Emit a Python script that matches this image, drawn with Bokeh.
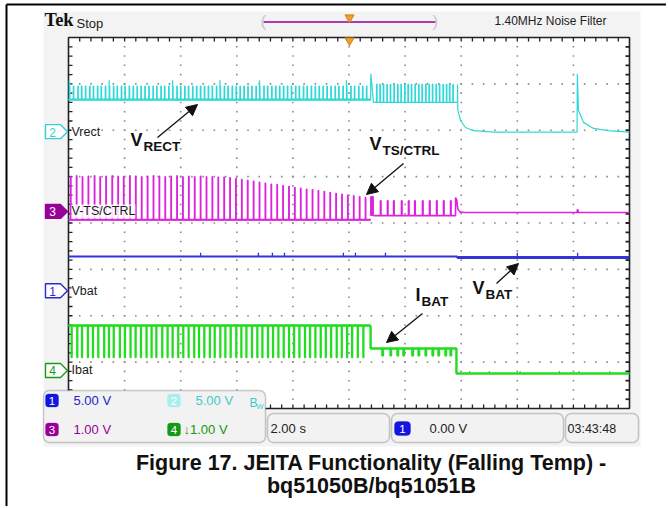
import numpy as np
from bokeh.plotting import figure
from bokeh.models import Range1d, Label, BoxAnnotation, Arrow, NormalHead
from bokeh.embed import file_html
from bokeh.resources import INLINE

# ================= values =================
# horizontal: seconds (2.00 s/div, 10 div) ; vertical: screen divisions (centre 0, +-4)
SEC_PER_DIV = 2.0
X_DIVS, Y_DIVS = 10, 8

ch_labels = ["Vrect", "V-TS/CTRL", "Vbat", "Ibat"]
ch_numbers = ["2", "3", "1", "4"]
ch_ground_div = [1.97, 0.25, -1.46, -3.18]
ch_colors = ["#2fd8d8", "#dd22dd", "#3333d6", "#22dd22"]
ch_tag_colors = ["#35d0d0", "#990099", "#2a2ad0", "#1a9a1a"]
ch_tag_filled = [False, True, False, False]

scale_numbers = ["1", "2", "3", "4"]
scale_texts = ["5.00 V", "5.00 V", "1.00 V", "\u21931.00 V"]
timebase_text = "2.00 s"
trigger_text = "0.00 V"
clock_text = "03:43:48"
header_left = "Stop"
header_right = "1.40MHz  Noise Filter"
caption = ["Figure 17. JEITA Functionality (Falling Temp) -", "bq51050B/bq51051B"]

# ---- Ch2 Vrect (cyan) ----
vrect_a_t = [0.03, 0.17, 0.33, 0.46, 0.60, 0.75, 0.88, 1.03, 1.16, 1.31, 1.45, 1.60, 1.73, 1.88,
             2.01, 2.16, 2.30, 2.44, 2.58, 2.72, 2.86, 3.01, 3.14, 3.29, 3.42, 3.57, 3.71, 3.86,
             3.99, 4.14, 4.27, 4.42, 4.56, 4.70, 4.84, 4.98, 5.12, 5.27, 5.40, 5.55, 5.68, 5.83,
             5.97, 6.11, 6.25, 6.39, 6.53, 6.68, 6.81, 6.96, 7.09, 7.24, 7.38, 7.52, 7.66, 7.80,
             7.94, 8.09, 8.22, 8.37, 8.50, 8.65, 8.79, 8.93, 9.07, 9.21, 9.35, 9.50, 9.63, 9.78,
             9.91, 10.06, 10.19, 10.34, 10.48, 10.62]
vrect_a_low, vrect_a_high = 2.66, 2.95
vrect_pulse_w = 0.02
vrect_b_t = [10.98, 11.10, 11.22, 11.35, 11.47, 11.60, 11.73, 11.85, 11.98, 12.10, 12.22, 12.35,
             12.48, 12.60, 12.73, 12.85, 12.97, 13.10, 13.22, 13.35, 13.47, 13.58, 13.70]
vrect_b_low, vrect_b_high = 2.60, 2.99
vrect_spike_t = [0.03, 1.45, 3.71, 5.40, 6.81, 9.91]
vrect_spike_top = 3.08
vrect_glitch_t = [10.77, 10.78, 10.82, 10.87]
vrect_glitch_v = [2.66, 3.22, 2.95, 2.60]
vrect_tail_t = [13.87, 13.88, 13.98, 14.15, 14.44, 15.15, 18.13, 18.14, 18.18, 18.36, 18.72, 19.22, 20.0]
vrect_tail_v = [2.99, 2.43, 2.21, 2.06, 1.99, 1.96, 1.96, 3.22, 2.43, 2.17, 2.04, 1.99, 1.96]

# ---- Ch3 V-TS/CTRL (magenta) ----
vts_a_t = [0.07, 0.28, 0.49, 0.70, 0.92, 1.12, 1.33, 1.55, 1.76, 1.96, 2.18, 2.39, 2.60, 2.81,
           3.02, 3.23, 3.44, 3.65, 3.86, 4.07, 4.28, 4.49, 4.70, 4.91, 5.12, 5.33, 5.54, 5.75,
           5.96, 6.17, 6.38, 6.59, 6.80, 7.01, 7.22, 7.43, 7.64, 7.85, 8.06, 8.27, 8.48, 8.69,
           8.90, 9.11, 9.32, 9.53, 9.74, 9.95, 10.16, 10.37, 10.58]
vts_a_top = [1.01, 1.02, 1.00, 1.01, 1.02, 1.00, 1.01, 1.02, 1.01, 1.00, 1.02, 1.01, 1.00, 1.01,
             1.02, 1.01, 1.00, 1.01, 1.02, 1.00, 1.01, 1.00, 1.01, 1.00, 1.00, 0.99, 0.99, 0.98,
             0.96, 0.94, 0.92, 0.90, 0.88, 0.86, 0.84, 0.83, 0.81, 0.79, 0.77, 0.75, 0.73, 0.72,
             0.70, 0.68, 0.66, 0.64, 0.62, 0.60, 0.59, 0.57, 0.55]
vts_a_base = 0.07
vts_pulse_w = 0.02
vts_burst_t = (10.77, 10.87)
vts_burst_v = (0.16, 0.57)
vts_b_t = [11.12, 11.37, 11.59, 11.87, 12.12, 12.34, 12.62, 12.87, 13.12, 13.37, 13.62]
vts_b_top = 0.48
vts_b_base = 0.16
vts_tail_t = [13.80, 13.80, 13.84, 13.88, 13.95, 14.10, 18.13, 18.15, 18.18, 20.0]
vts_tail_v = [0.16, 0.55, 0.50, 0.30, 0.24, 0.226, 0.226, 0.30, 0.226, 0.226]

# ---- Ch1 Vbat (blue) ----
vbat_a = -0.722
vbat_b = -0.744
vbat_step_t = 13.87
vbat_spike_t = [4.71, 6.77, 7.27, 7.70, 9.80, 10.23, 11.30, 16.00, 18.15]
vbat_spike_top = -0.64

# ---- Ch4 Ibat (green) ----
ibat_a_t = [0.10, 0.30, 0.47, 0.68, 0.86, 1.05, 1.26, 1.43, 1.60, 1.82, 2.00, 2.20, 2.38, 2.57,
            2.77, 2.95, 3.12, 3.33, 3.52, 3.70, 3.90, 4.08, 4.27, 4.47, 4.64, 4.83, 5.03, 5.20,
            5.40, 5.58, 5.77, 5.97, 6.15, 6.33, 6.53, 6.72, 6.90, 7.10, 7.28, 7.47, 7.66, 7.85,
            8.03, 8.22, 8.42, 8.60, 8.79, 8.98, 9.16, 9.35, 9.55, 9.73, 9.92, 10.10, 10.30, 10.50]
ibat_a_high = -2.21
ibat_a_low = -2.90
ibat_pulse_w = 0.025
ibat_step1_t = 10.77
ibat_b_level = -2.706
ibat_b_t = [11.19, 11.48, 11.73, 11.94, 12.26, 12.48, 12.73, 12.98, 13.19, 13.44, 13.62]
ibat_b_low = -2.86
ibat_step2_t = 13.83
ibat_c_level = -3.245
ibat_c_t = [14.3, 15.0, 16.1, 17.5, 18.2, 19.3]
ibat_c_top = -3.19

# ================= layout (page pixels) =================
W, H = 666, 506
GX0, GX1, GY0, GY1 = 68, 629, 37, 408          # graticule
PPS = (GX1 - GX0) / (X_DIVS * SEC_PER_DIV)     # px per second
PPD = (GY1 - GY0) / Y_DIVS                     # px per division
YMID = (GY0 + GY1) / 2

def py(div):
    return YMID - div * PPD

p = figure(width=W, height=H, x_range=Range1d(0, W), y_range=Range1d(H, 0),
           output_backend="svg", toolbar_location=None, x_axis_type=None, y_axis_type=None,
           min_border=0, outline_line_color=None, background_fill_color="white",
           border_fill_color="white")
p.grid.visible = False
p.extra_x_ranges = {"t": Range1d(-GX0 / PPS, (W - GX0) / PPS)}
p.extra_y_ranges = {"d": Range1d(-(H - YMID) / PPD, YMID / PPD)}
T = dict(x_range_name="t", y_range_name="d")

# page border
p.line([6, 6], [H, 4], line_color="black", line_width=2)
p.line([6, W], [4, 4], line_color="black", line_width=2)

# scope screen background + graticule
p.quad(left=43, right=640, top=11, bottom=446, fill_color="#f3f3f3", line_color=None)
p.quad(left=GX0, right=GX1, top=GY0, bottom=GY1, fill_color="white", line_color="#222222", line_width=1.6)

dx, dy = (GX1 - GX0) / X_DIVS, (GY1 - GY0) / Y_DIVS
dots_x, dots_y = [], []
for k in range(1, X_DIVS):
    for j in range(1, Y_DIVS * 5):
        dots_x.append(GX0 + k * dx); dots_y.append(GY0 + j * dy / 5)
for k in range(1, Y_DIVS):
    for j in range(1, X_DIVS * 5):
        dots_x.append(GX0 + j * dx / 5); dots_y.append(GY0 + k * dy)
p.rect(dots_x, dots_y, width=1.6, height=1.6, width_units="screen", height_units="screen",
       fill_color="#8a8a8a", line_color=None)

tx = [GX0 + j * dx / 5 for j in range(1, X_DIVS * 5)]
ty = [GY0 + j * dy / 5 for j in range(1, Y_DIVS * 5)]
p.segment(tx, [GY0] * len(tx), tx, [GY0 + 4] * len(tx), line_color="#222222", line_width=1.3)
p.segment(tx, [GY1] * len(tx), tx, [GY1 - 4] * len(tx), line_color="#222222", line_width=1.3)
p.segment([GX0] * len(ty), ty, [GX0 + 4] * len(ty), ty, line_color="#222222", line_width=1.3)
p.segment([GX1] * len(ty), ty, [GX1 - 4] * len(ty), ty, line_color="#222222", line_width=1.8)

# ================= traces =================
def comb(t0, t1, base, starts, width, tops):
    xs, ys = [t0], [base]
    for s, h in zip(starts, tops):
        xs += [s, s, s + width, s + width]
        ys += [base, h, h, base]
    xs.append(t1); ys.append(base)
    return xs, ys

# cyan Vrect
xa, ya = comb(0, vrect_glitch_t[0], vrect_a_low, vrect_a_t, vrect_pulse_w, [vrect_a_high] * len(vrect_a_t))
xb, yb = comb(vrect_glitch_t[-1], vrect_tail_t[0], vrect_b_low, vrect_b_t, vrect_pulse_w,
              [vrect_b_high] * len(vrect_b_t))
p.line(xa + vrect_glitch_t + xb + vrect_tail_t, ya + vrect_glitch_v + yb + vrect_tail_v,
       line_color=ch_colors[0], line_width=1.2, **T)
p.line([0, vrect_glitch_t[0]], [vrect_a_low, vrect_a_low], line_color=ch_colors[0], line_width=2.2, **T)
p.segment(vrect_spike_t, [vrect_a_high] * len(vrect_spike_t), vrect_spike_t,
          [vrect_spike_top] * len(vrect_spike_t), line_color=ch_colors[0], line_width=1.3, **T)

# magenta V-TS/CTRL
xa, ya = comb(0, vts_burst_t[0], vts_a_base, vts_a_t, vts_pulse_w, vts_a_top)
p.line(xa, ya, line_color=ch_colors[1], line_width=1.3, **T)
p.line([0, vts_burst_t[0]], [vts_a_base, vts_a_base], line_color=ch_colors[1], line_width=2, **T)
p.quad(left=vts_burst_t[0], right=vts_burst_t[1], bottom=vts_burst_v[0], top=vts_burst_v[1],
       fill_color=ch_colors[1], line_color=ch_colors[1], **T)
xb, yb = comb(vts_burst_t[1], vts_tail_t[0], vts_b_base, vts_b_t, vts_pulse_w, [vts_b_top] * len(vts_b_t))
p.line(xb + vts_tail_t, yb + vts_tail_v, line_color=ch_colors[1], line_width=1.6, **T)

# blue Vbat
p.line([0, vbat_step_t], [vbat_a, vbat_a], line_color=ch_colors[2], line_width=1.8, **T)
p.line([vbat_step_t, vbat_step_t, 20], [vbat_a, vbat_b, vbat_b], line_color=ch_colors[2], line_width=3, **T)
p.segment(vbat_spike_t, [vbat_a] * len(vbat_spike_t), vbat_spike_t, [vbat_spike_top] * len(vbat_spike_t),
          line_color=ch_colors[2], line_width=1.3, **T)

# green Ibat
xa, ya = comb(0, ibat_step1_t, ibat_a_high, ibat_a_t, ibat_pulse_w, [ibat_a_low] * len(ibat_a_t))
p.line(xa, ya, line_color=ch_colors[3], line_width=1.6, **T)
p.line([0, ibat_step1_t], [ibat_a_high, ibat_a_high], line_color=ch_colors[3], line_width=2.4, **T)
xb, yb = comb(ibat_step1_t, ibat_step2_t, ibat_b_level, ibat_b_t, 0.02, [ibat_b_low] * len(ibat_b_t))
p.line([ibat_step1_t] + xb + [ibat_step2_t, ibat_step2_t, 20],
       [ibat_a_high] + yb + [ibat_b_level, ibat_c_level, ibat_c_level],
       line_color=ch_colors[3], line_width=2.4, **T)
p.segment(ibat_c_t, [ibat_c_level] * len(ibat_c_t), ibat_c_t, [ibat_c_top] * len(ibat_c_t),
          line_color=ch_colors[3], line_width=1.2, **T)

# ================= channel tags & labels =================
NARROW = "Liberation Sans"
for lab, num, g, tagcol, filled in zip(ch_labels, ch_numbers, ch_ground_div, ch_tag_colors, ch_tag_filled):
    yy = py(g)
    p.patch([45, 60, 67, 60, 45], [yy - 7, yy - 7, yy, yy + 7, yy + 7],
            fill_color=tagcol if filled else "white", line_color=tagcol, line_width=1.4)
    p.add_layout(Label(x=52, y=yy + 0.5, text=num, text_align="center", text_baseline="middle",
                       text_font=NARROW, text_font_size="12px",
                       text_color="white" if filled else tagcol))
    p.add_layout(Label(x=71, y=yy, text=lab, text_baseline="middle", text_font=NARROW,
                       text_font_size="12.5px", text_color="#1a1a1a",
                       background_fill_color="white", background_fill_alpha=0.85))

# ================= header =================
p.add_layout(Label(x=44, y=29, text="Tek", text_font="Liberation Serif", text_font_style="bold",
                   text_font_size="18.5px", text_color="#111111"))
p.add_layout(Label(x=76, y=23, text=header_left, text_baseline="middle", text_font=NARROW,
                   text_font_size="13px", text_color="#222222"))
p.add_layout(Label(x=494, y=20, text=header_right, text_baseline="middle", text_font=NARROW,
                   text_font_size="12px", text_color="#222222"))
p.line([263, 435], [21.5, 21.5], line_color="#b03ab0", line_width=2)
for bx, ch in [(260, "("), (432, ")")]:
    p.add_layout(Label(x=bx, y=21, text=ch, text_baseline="middle", text_font=NARROW,
                       text_font_size="17px", text_color="#c8c8c8"))
p.scatter([349, 349], [17, 40], marker="inverted_triangle", size=9, fill_color="#f0a030",
          line_color="#d08010")

# ================= bottom info boxes =================
BOX = dict(fill_color="#f2f2f2", fill_alpha=1, line_color="#555555", line_width=1.5, border_radius=6)
p.add_layout(BoxAnnotation(left=43, right=265, top=390, bottom=442, **BOX))
p.add_layout(BoxAnnotation(left=267, right=389, top=413, bottom=442, **BOX))
p.add_layout(BoxAnnotation(left=391, right=563, top=413, bottom=442, **BOX))
p.add_layout(BoxAnnotation(left=565, right=638, top=413, bottom=442, **BOX))

badge_cols = ["#1515e0", "#a8eeee", "#990099", "#139913"]
text_cols = ["#2424c8", "#3ccccc", "#990099", "#139913"]
badge_pos = [(45, 400), (167, 400), (45, 429), (167, 429)]
for num, txt, bc, tc, (bx, by) in zip(scale_numbers, scale_texts, badge_cols, text_cols, badge_pos):
    p.add_layout(BoxAnnotation(left=bx, right=bx + 13, top=by - 6.5, bottom=by + 6.5, fill_color=bc,
                               fill_alpha=1, line_color=bc, border_radius=3))
    p.add_layout(Label(x=bx + 6.5, y=by + 0.5, text=num, text_align="center", text_baseline="middle",
                       text_font=NARROW, text_font_size="11.5px", text_color="white"))
    p.add_layout(Label(x=bx + 28 if num != "4" else bx + 16, y=by, text=txt, text_baseline="middle",
                       text_font=NARROW, text_font_size="13px", text_color=tc))
p.add_layout(Label(x=249, y=402, text="B", text_baseline="middle", text_font=NARROW,
                   text_font_size="12px", text_color="#3ccccc"))
p.add_layout(Label(x=256, y=406, text="W", text_baseline="middle", text_font=NARROW,
                   text_font_size="7.5px", text_color="#3ccccc"))
p.add_layout(Label(x=270, y=428, text=timebase_text, text_baseline="middle", text_font=NARROW,
                   text_font_size="13px", text_color="#222222"))
p.add_layout(BoxAnnotation(left=394, right=410, top=421, bottom=435, fill_color="#1515e0",
                           fill_alpha=1, line_color="#1515e0", border_radius=4))
p.add_layout(Label(x=402, y=428.5, text="1", text_align="center", text_baseline="middle",
                   text_font=NARROW, text_font_size="11.5px", text_color="white"))
p.add_layout(Label(x=429, y=428, text=trigger_text, text_baseline="middle", text_font=NARROW,
                   text_font_size="13px", text_color="#222222"))
p.add_layout(Label(x=567, y=428, text=clock_text, text_baseline="middle", text_font=NARROW,
                   text_font_size="12.5px", text_color="#222222"))
p.line([418.5, 421, 424.5, 427], [434, 434, 421, 421], line_color="#222222", line_width=1.4)

# ================= annotations =================
BOLD = "Liberation Sans"
def vlabel(x, y, big, sub):
    p.add_layout(Label(x=x, y=y, text=big, text_font=BOLD, text_font_style="bold",
                       text_font_size="18px", text_color="#111111"))
    p.add_layout(Label(x=x + (13 if big == "V" else 6), y=y + 4.5, text=sub, text_font=BOLD,
                       text_font_style="bold", text_font_size="13.5px", text_color="#111111"))

vlabel(130, 149, "V", "RECT")
vlabel(369, 153, "V", "TS/CTRL")
vlabel(472, 297, "V", "BAT")
vlabel(415, 304, "I", "BAT")

for xs, ys, xe, ye in [(157, 137, 197, 104), (403, 163, 366, 194), (496, 283, 518, 263),
                       (422, 313, 386, 342)]:
    p.add_layout(Arrow(end=NormalHead(size=11, fill_color="#111111", line_color="#111111", line_width=1),
                       x_start=xs, y_start=ys, x_end=xe, y_end=ye, line_color="#111111", line_width=1.3))

# caption
for i, line in enumerate(caption):
    p.add_layout(Label(x=371, y=474 + 23 * i, text=line, text_align="center", text_font=BOLD,
                       text_font_style="bold", text_font_size="21.5px", text_color="#111111"))

open("out.html", "w").write(file_html(p, INLINE))
